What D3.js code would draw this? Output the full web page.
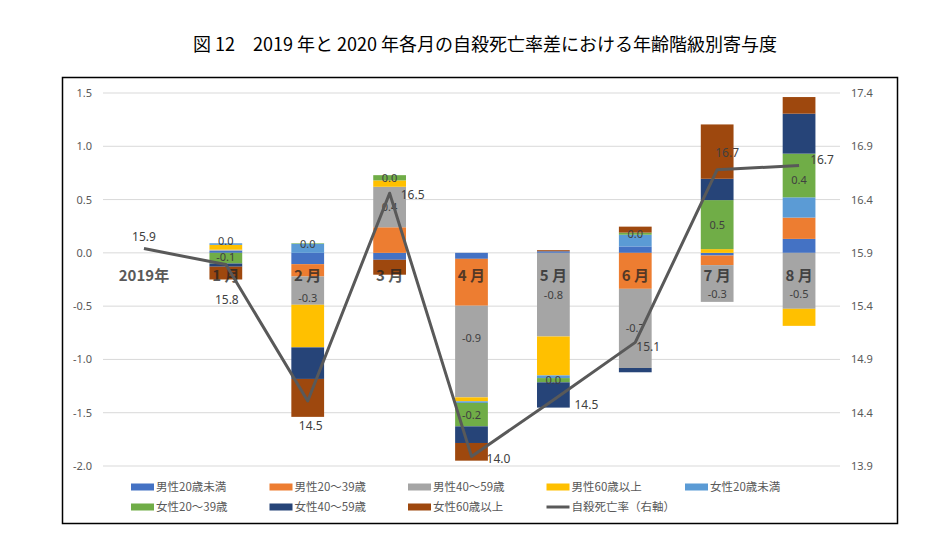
<!DOCTYPE html>
<html><head><meta charset="utf-8">
<script src="https://cdn.jsdelivr.net/npm/d3@7"></script>
<style>body{margin:0;background:#fff}</style>
</head><body><svg id="c" width="949" height="557"></svg>
<script>
const title = "図 12\u30002019 年と 2020 年各月の自殺死亡率差における年齢階級別寄与度";
const categories = ["2019年","1 月","2 月","3 月","4 月","5 月","6 月","7 月","8 月"];
const seriesNames = ["男性20歳未満","男性20～39歳","男性40～59歳","男性60歳以上","女性20歳未満","女性20～39歳","女性40～59歳","女性60歳以上"];
const lineName = "自殺死亡率（右軸）";
const male0019   = [0, 0.02, -0.106, -0.065, -0.056, 0.015, 0.06, -0.025, 0.131];
const male2039   = [0, 0, -0.116, 0.24, -0.44, 0, -0.3375, -0.09, 0.2];
const male4059   = [0, 0.01, -0.265, 0.38, -0.86, -0.785, -0.743, -0.345, -0.525];
const male60     = [0, 0.045, -0.4, 0.06, -0.037, -0.365, 0, 0.035, -0.16];
const female0019 = [0, 0.015, 0.085, 0, -0.015, -0.025, 0.11, 0, 0.19];
const female2039 = [0, -0.1, 0.005, 0.049, -0.22, -0.04, 0.02, 0.46, 0.41];
const female4059 = [0, -0.03, -0.296, 0, -0.156, -0.237, -0.04, 0.2, 0.375];
const female60   = [0, -0.12, -0.356, -0.14, -0.166, 0.01, 0.056, 0.51, 0.156];
const suicideRate = [15.94, 15.79, 14.51, 16.46, 13.99, 14.52, 15.06, 16.68, 16.72];
const leftTicks = [-2.0, -1.5, -1.0, -0.5, 0.0, 0.5, 1.0, 1.5];
const rightTicks = [13.9, 14.4, 14.9, 15.4, 15.9, 16.4, 16.9, 17.4];

const seriesValues = [male0019, male2039, male4059, male60, female0019, female2039, female4059, female60];
const colors = ["#4472c4","#ed7d31","#a5a5a5","#ffc000","#5b9bd5","#70ad47","#264478","#9e480e"];
const labeledSeries = [2, 5];
const lineColor = "#595959";
// label nudges (layout only)
const barLblDy = {2: [0, -9, 7, 0, -14, 0, 0, 11, 13], 5: [0, -1, 0, 0, 0, 0, 0, 0, 5]};
const lblDx = [0, 1, 3, 23, 27, 33, 13, 10, 23];
const lblDy = [-12, 35, 25, 2, 3, 5, 5, -17, -5];

const svg = d3.select("#c");
const numFont = "'Noto Sans', 'DejaVu Sans', sans-serif";
const jpFont = "'Noto Sans CJK JP', sans-serif";

svg.append("text").attr("x", 485).attr("y", 51).attr("text-anchor", "middle")
  .attr("font-family", jpFont).attr("font-size", 18).attr("font-weight", 400)
  .attr("fill", "#000").text(title);

svg.append("rect").attr("x", 62.5).attr("y", 77.5).attr("width", 835).attr("height", 446)
  .attr("fill", "none").attr("stroke", "#000").attr("stroke-width", 1.5);

const x = d3.scaleBand().domain(categories).range([103, 840]).paddingInner(0.6).paddingOuter(0.3);
const xc = d => x(d) + x.bandwidth() / 2;
const y = d3.scaleLinear().domain([-2, 1.5]).range([466, 93]);
const y2 = d3.scaleLinear().domain([13.9, 17.4]).range([466, 93]);

// gridlines
svg.append("g").selectAll("line").data(leftTicks).join("line")
  .attr("x1", 103).attr("x2", 840).attr("y1", d => y(d)).attr("y2", d => y(d))
  .attr("stroke", "#d9d9d9").attr("stroke-width", 1);

// left axis
const yAxis = d3.axisLeft(y).tickValues(leftTicks).tickSize(0).tickPadding(0)
  .tickFormat(d => d.toFixed(1));
const gy = svg.append("g").attr("transform", "translate(92,0)").call(yAxis);
gy.select(".domain").remove();
gy.selectAll("text").attr("font-family", numFont).attr("font-size", 11).attr("fill", "#595959");

const yAxis2 = d3.axisRight(y2).tickValues(rightTicks).tickSize(0).tickPadding(0)
  .tickFormat(d => d.toFixed(1));
const gy2 = svg.append("g").attr("transform", "translate(851,0)").call(yAxis2);
gy2.select(".domain").remove();
gy2.selectAll("text").attr("font-family", numFont).attr("font-size", 11).attr("fill", "#595959");

// stacked bars
const table = categories.map((c, i) => {
  const o = {cat: c};
  seriesNames.forEach((s, k) => o[s] = seriesValues[k][i]);
  return o;
});
const stack = d3.stack().keys(seriesNames).offset(d3.stackOffsetDiverging)(table);
const bars = svg.append("g");
stack.forEach((layer, k) => {
  bars.append("g").attr("fill", colors[k]).selectAll("rect").data(layer).join("rect")
    .attr("x", d => x(d.data.cat)).attr("width", x.bandwidth())
    .attr("y", d => y(Math.max(d[0], d[1])))
    .attr("height", d => Math.abs(y(d[0]) - y(d[1])));
});

// category labels (semi-transparent, over bars)
svg.append("g").selectAll("text").data(categories).join("text")
  .attr("x", d => xc(d)).attr("y", y(0) + 28).attr("text-anchor", "middle")
  .attr("font-family", jpFont).attr("font-size", 15).attr("font-weight", 700)
  .attr("fill", "#222").attr("opacity", 0.75).text(d => d);

// bar data labels
const fmt = v => { let s = v.toFixed(1); if (s === "-0.0") s = "0.0"; return s; };
labeledSeries.forEach(k => {
  svg.append("g").selectAll("text")
    .data(stack[k].map((d, i) => ({d, i})).filter(o => o.d.data[seriesNames[k]] !== 0)).join("text")
    .attr("x", o => xc(o.d.data.cat)).attr("y", o => y((o.d[0] + o.d[1]) / 2) + 4 + barLblDy[k][o.i])
    .attr("text-anchor", "middle").attr("font-family", numFont).attr("font-size", 11)
    .attr("fill", "#404040").text(o => fmt(o.d.data[seriesNames[k]]));
});

// line
const line = d3.line().x((d, i) => xc(categories[i])).y(d => y2(d));
svg.append("path").datum(suicideRate).attr("d", line).attr("fill", "none")
  .attr("stroke", lineColor).attr("stroke-width", 3).attr("stroke-linejoin", "round");

svg.append("g").selectAll("text").data(suicideRate).join("text")
  .attr("x", (d, i) => xc(categories[i]) + lblDx[i])
  .attr("y", (d, i) => y2(d) + lblDy[i] + 4)
  .attr("text-anchor", "middle").attr("font-family", numFont).attr("font-size", 12)
  .attr("fill", "#404040").text(d => d.toFixed(1));

// legend
const legendItems = seriesNames.map((s, k) => ({name: s, color: colors[k], type: "rect"}))
  .concat([{name: lineName, color: lineColor, type: "line"}]);
const lg = svg.append("g");
legendItems.forEach((it, i) => {
  const col = i % 5, row = Math.floor(i / 5);
  const lx = 131 + col * 138.5, ly = 487 + row * 20;
  if (it.type === "rect") {
    lg.append("rect").attr("x", lx).attr("y", ly - 3.5).attr("width", 23).attr("height", 7).attr("fill", it.color);
  } else {
    lg.append("line").attr("x1", lx).attr("x2", lx + 23).attr("y1", ly).attr("y2", ly)
      .attr("stroke", it.color).attr("stroke-width", 3);
  }
  lg.append("text").attr("x", lx + 25).attr("y", ly + 4).attr("font-family", jpFont)
    .attr("font-size", 11.5).attr("fill", "#595959").text(it.name);
});
</script>
</body></html>
